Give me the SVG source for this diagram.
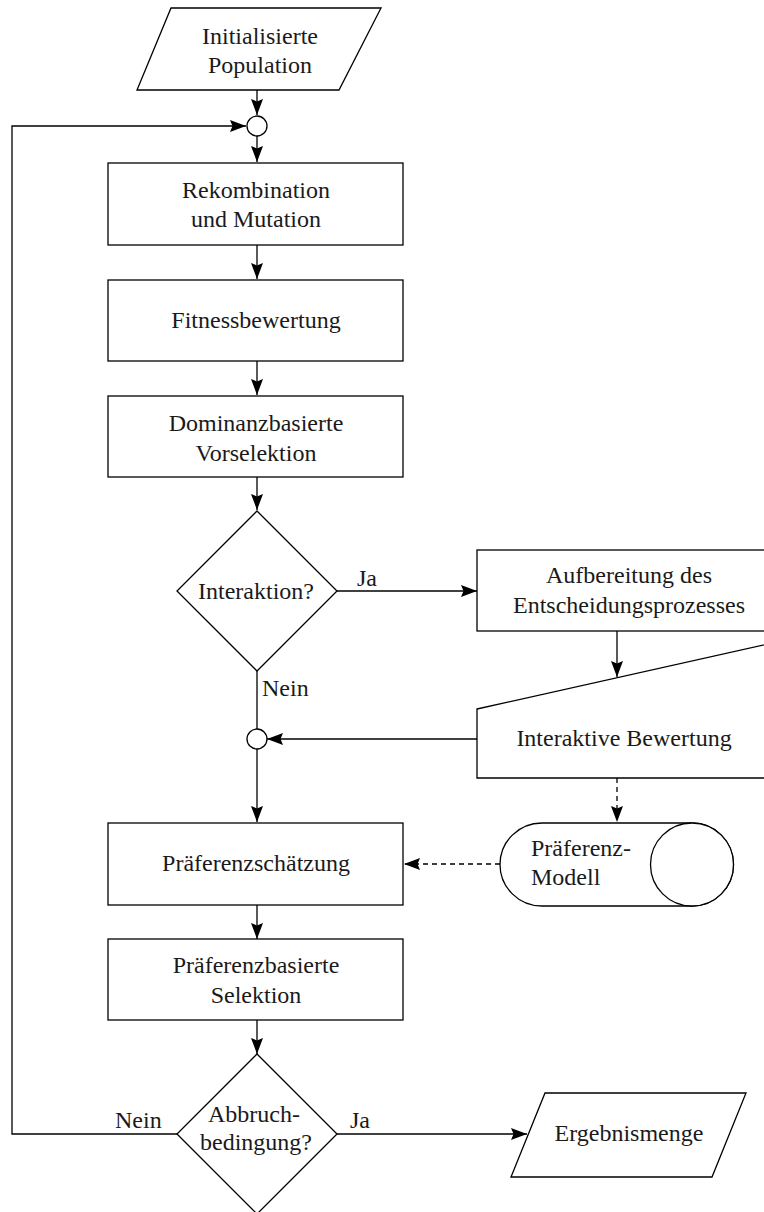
<svg xmlns="http://www.w3.org/2000/svg" width="764" height="1212" viewBox="0 0 764 1212">
<style>
.n{fill:#fff;stroke:#000;stroke-width:1.3}
.t{font-family:'Liberation Serif','DejaVu Serif',serif;font-size:24px;fill:#1a1a1a;text-anchor:middle}
.l{font-family:'Liberation Serif','DejaVu Serif',serif;font-size:24px;fill:#1a1a1a}
.c{fill:none;stroke:#000;stroke-width:1.3}
.d{stroke-dasharray:5 4}
</style>
<defs>
<marker id="a" markerUnits="userSpaceOnUse" markerWidth="16" markerHeight="12" refX="16" refY="6" orient="auto">
<path d="M0,0 L16,6 L0,12 L2.5,6 Z" fill="#000"/>
</marker>
</defs>
<rect width="764" height="1212" fill="#fff"/>
<g id="connectors">
<path class="c" d="M257,90 V115" marker-end="url(#a)"/>
<path class="c" d="M257,136 V162" marker-end="url(#a)"/>
<path class="c" d="M257,245 V279" marker-end="url(#a)"/>
<path class="c" d="M257,361 V395" marker-end="url(#a)"/>
<path class="c" d="M257,477 V510" marker-end="url(#a)"/>
<path class="c" d="M337,591 H477" marker-end="url(#a)"/>
<path class="c" d="M617,631 V677" marker-end="url(#a)"/>
<path class="c" d="M257,671 V729"/>
<path class="c" d="M477,739 H267" marker-end="url(#a)"/>
<path class="c" d="M257,749 V822" marker-end="url(#a)"/>
<path class="c d" d="M617,778 V822" marker-end="url(#a)"/>
<path class="c d" d="M500,864 H404" marker-end="url(#a)"/>
<path class="c" d="M257,905 V939" marker-end="url(#a)"/>
<path class="c" d="M257,1020 V1054" marker-end="url(#a)"/>
<path class="c" d="M177,1134 H12 V126 H246" marker-end="url(#a)"/>
<path class="c" d="M337,1134 H527" marker-end="url(#a)"/>
<text class="l" x="357" y="586">Ja</text>
<text class="l" x="262" y="696">Nein</text>
<text class="l" x="115" y="1128">Nein</text>
<text class="l" x="350" y="1128">Ja</text>
</g>
<g id="start">
<polygon class="n" points="171,8 381,8 339,90 137,90"/>
<text class="t" x="260" y="44">Initialisierte</text>
<text class="t" x="260" y="73">Population</text>
</g>
<g id="junction1"><circle class="n" cx="257" cy="126" r="10"/></g>
<g id="rekombination">
<rect class="n" x="108" y="163" width="295" height="82"/>
<text class="t" x="256" y="198">Rekombination</text>
<text class="t" x="256" y="227">und Mutation</text>
</g>
<g id="fitness">
<rect class="n" x="108" y="280" width="295" height="81"/>
<text class="t" x="256" y="328">Fitnessbewertung</text>
</g>
<g id="vorselektion">
<rect class="n" x="108" y="396" width="295" height="81"/>
<text class="t" x="256" y="431">Dominanzbasierte</text>
<text class="t" x="256" y="461">Vorselektion</text>
</g>
<g id="interaktion">
<polygon class="n" points="257,511 337,591 257,671 177,591"/>
<text class="t" x="256" y="599">Interaktion?</text>
</g>
<g id="aufbereitung">
<rect class="n" x="477" y="550" width="304" height="81"/>
<text class="t" x="629" y="583">Aufbereitung des</text>
<text class="t" x="629" y="613">Entscheidungsprozesses</text>
</g>
<g id="interaktive-bewertung">
<polygon class="n" points="477,709 781,641 781,778 477,778"/>
<text class="t" x="624" y="746">Interaktive Bewertung</text>
</g>
<g id="junction2"><circle class="n" cx="257" cy="739" r="10"/></g>
<g id="praeferenzschaetzung">
<rect class="n" x="108" y="823" width="295" height="82"/>
<text class="t" x="256" y="871">Präferenzschätzung</text>
</g>
<g id="praeferenzmodell">
<path class="n" d="M542,823 H692 A41.5,41.5 0 0 1 692,906 H542 A42,41.5 0 0 1 542,823 Z"/>
<ellipse class="n" cx="692" cy="864.5" rx="41.5" ry="41.5"/>
<text class="l" x="531" y="856">Präferenz-</text>
<text class="l" x="531" y="885">Modell</text>
</g>
<g id="selektion">
<rect class="n" x="108" y="939" width="295" height="81"/>
<text class="t" x="256" y="973">Präferenzbasierte</text>
<text class="t" x="256" y="1003">Selektion</text>
</g>
<g id="abbruch">
<polygon class="n" points="257,1054 337,1134 257,1214 177,1134"/>
<text class="t" x="254" y="1122">Abbruch-</text>
<text class="t" x="256" y="1150">bedingung?</text>
</g>
<g id="ergebnis">
<polygon class="n" points="545,1093 746,1093 712,1177 511,1177"/>
<text class="t" x="629" y="1141">Ergebnismenge</text>
</g>
</svg>
